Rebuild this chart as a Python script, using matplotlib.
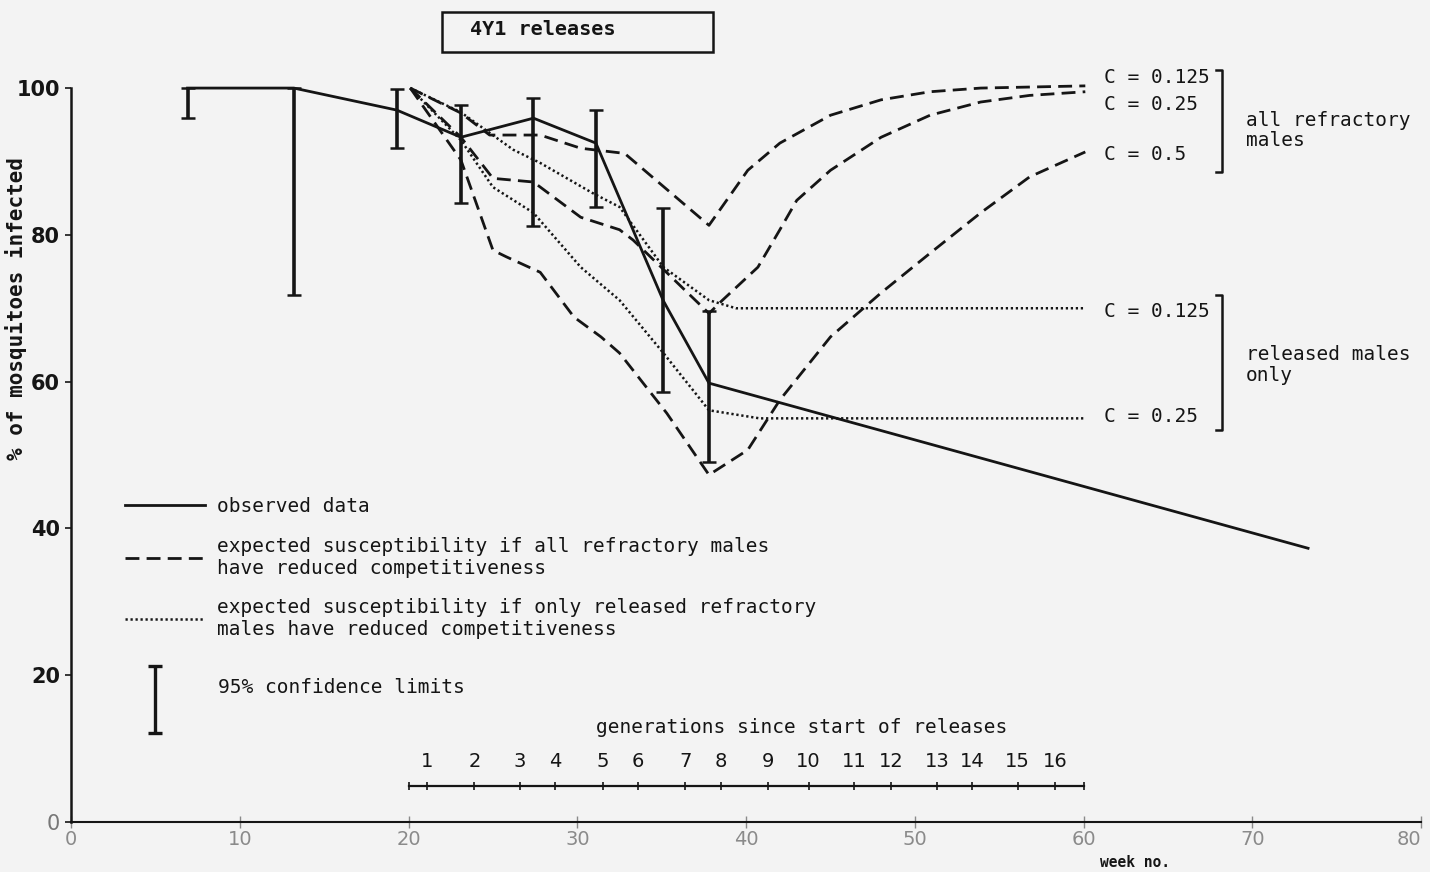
import numpy as np
import matplotlib
matplotlib.use("Agg")
import matplotlib.pyplot as plt
from matplotlib.lines import Line2D
from matplotlib.path import Path
from matplotlib.patches import Rectangle

# observed data with 95% confidence limits
obs_week = [6.9, 13.2, 19.3, 23.1, 27.4, 31.1, 35.1, 37.8, 73.3]
obs_pct = [100, 100, 97.0, 93.3, 95.9, 92.5, 71.0, 59.8, 37.3]
ci_week = [6.9, 13.2, 19.3, 23.1, 27.4, 31.1, 35.1, 37.8]
ci_low = [95.9, 71.8, 91.8, 84.3, 81.2, 83.8, 58.6, 49.0]
ci_high = [100, 100, 99.9, 97.7, 98.6, 97.0, 83.7, 69.6]

# expected: all refractory males have reduced competitiveness
all_c0125_week = [20.1, 23.1, 24.8, 27.8, 30.2, 32.8, 37.8, 40.1, 42.0, 45.0, 48.0, 50.9, 53.9, 60.1]
all_c0125_pct = [100, 96.6, 93.6, 93.6, 91.8, 91.1, 81.3, 88.8, 92.5, 96.3, 98.4, 99.5, 100, 100.3]
all_c025_week = [20.1, 23.1, 25.0, 27.4, 30.2, 32.5, 33.3, 37.8, 38.6, 40.7, 42.0, 43.0, 45.0, 48.0,
                 50.9, 53.9, 56.8, 60.1]
all_c025_pct = [100, 93.3, 87.7, 87.2, 82.4, 80.7, 79.3, 69.3, 71.1, 75.6, 80.7, 84.7, 88.8, 93.3,
                96.3, 98.1, 99.0, 99.5]
all_c05_week = [20.1, 23.1, 25.0, 25.8, 27.8, 29.8, 31.4, 32.5, 35.3, 37.8, 40.1, 42.0, 45.0, 48.0,
                50.9, 53.9, 56.8, 60.1]
all_c05_pct = [100, 90.2, 77.9, 77.0, 74.9, 68.8, 66.1, 63.9, 55.7, 47.3, 50.7, 57.5, 66.1, 72.1,
               77.5, 83.0, 87.9, 91.3]

# expected: only released refractory males have reduced competitiveness
rel_c0125_week = [20.1, 23.1, 26.2, 27.8, 30.9, 32.5, 35.1, 37.8, 39.4, 60.1]
rel_c0125_pct = [100, 96.7, 91.6, 89.8, 85.7, 83.8, 75.6, 71.1, 70.0, 70.0]
rel_c025_week = [20.1, 23.1, 25.0, 27.4, 30.2, 32.5, 35.1, 37.8, 40.8, 60.1]
rel_c025_pct = [100, 92.9, 86.5, 83.0, 75.6, 71.1, 63.9, 56.1, 55.0, 55.0]

# generation scale
gen_labels = [str(g) for g in range(1, 17)]
gen_week = [21.1, 23.9, 26.6, 28.7, 31.5, 33.6, 36.4, 38.5, 41.3, 43.7, 46.4, 48.6, 51.3, 53.4, 56.1, 58.3]
gen_span = [20, 60]
gen_level = 4.9

x_ticks = [0, 10, 20, 30, 40, 50, 60, 70, 80]
y_ticks = [0, 20, 40, 60, 80, 100]

INK = "#151515"
BG = "#f3f3f3"
MONO = ["DejaVu Sans Mono"]
NARROW = ["Liberation Sans Narrow", "DejaVu Sans"]
DASH = (5, 2.6)
DOT = (0.9, 1.1)

fig = plt.figure(figsize=(14.3, 8.72), dpi=100, facecolor=BG)
ax = fig.add_axes([0.0497, 0.0573, 0.9441, 0.8417])
ax.set_facecolor(BG)

# observed line and confidence limits
ax.plot(obs_week, obs_pct, color=INK, lw=2.0, clip_on=False)
ci_mid = [(lo + hi) / 2 for lo, hi in zip(ci_low, ci_high)]
ci_err = [[m - lo for m, lo in zip(ci_mid, ci_low)], [hi - m for m, hi in zip(ci_mid, ci_high)]]
ax.errorbar(ci_week, ci_mid, yerr=ci_err, fmt="none", ecolor=INK, elinewidth=2.6,
            capsize=5, capthick=1.8, clip_on=False)

for w, p in [(all_c0125_week, all_c0125_pct), (all_c025_week, all_c025_pct), (all_c05_week, all_c05_pct)]:
    ax.plot(w, p, color=INK, lw=2.0, dashes=DASH, clip_on=False)
for w, p in [(rel_c0125_week, rel_c0125_pct), (rel_c025_week, rel_c025_pct)]:
    ax.plot(w, p, color=INK, lw=1.8, dashes=DOT, clip_on=False)

# generation scale
ax.plot(gen_span, [gen_level, gen_level], color=INK, lw=1.6)
ax.plot(gen_week + gen_span, [gen_level] * (len(gen_week) + 2), ls="none", marker="|",
        ms=6, mew=1.2, color=INK)
for lab, w in zip(gen_labels, gen_week):
    ax.text(w, gen_level + 3.3, lab, ha="center", va="center", fontsize=14,
            family=NARROW, color=INK)
ax.text(43.3, 12.9, "generations since start of releases", ha="center", va="center",
        fontsize=14, family=MONO, color=INK)

# right-hand labels
ax.text(61.2, all_c0125_pct[-1] + 1.1, "C = 0.125", fontsize=14, family=MONO, color=INK, va="center")
ax.text(61.2, all_c025_pct[-1] - 1.7, "C = 0.25", fontsize=14, family=MONO, color=INK, va="center")
ax.text(61.2, all_c05_pct[-1] - 0.4, "C = 0.5", fontsize=14, family=MONO, color=INK, va="center")
ax.text(61.2, rel_c0125_pct[-1] - 0.5, "C = 0.125", fontsize=14, family=MONO, color=INK, va="center")
ax.text(61.2, rel_c025_pct[-1] + 0.3, "C = 0.25", fontsize=14, family=MONO, color=INK, va="center")


def bracket(x, y0, y1):
    ax.plot([x - 0.35, x, x, x - 0.35], [y0, y0, y1, y1], color=INK, lw=1.8, clip_on=False)


bracket(68.2, 102.5, 88.6)
bracket(68.2, 71.8, 53.4)
ax.text(69.6, 94.2, "all refractory\nmales", fontsize=14, family=MONO, color=INK,
        va="center", linespacing=1.1)
ax.text(69.6, 62.3, "released males\nonly", fontsize=14, family=MONO, color=INK,
        va="center", linespacing=1.1)

# legend: line styles
handles = [
    Line2D([], [], color=INK, lw=2.0),
    Line2D([], [], color=INK, lw=2.0, dashes=DASH),
    Line2D([], [], color=INK, lw=1.8, dashes=DOT),
]
labels = [
    "observed data",
    "expected susceptibility if all refractory males\nhave reduced competitiveness",
    "expected susceptibility if only released refractory\nmales have reduced competitiveness",
]
leg = ax.legend(handles, labels, loc="upper left", bbox_to_anchor=(0.04, 0.4425),
                frameon=False, borderpad=0, borderaxespad=0, handlelength=4.1,
                handletextpad=0.65, labelspacing=1.05, prop={"family": MONO, "size": 14})
for t in leg.get_texts():
    t.set_color(INK)
ax.add_artist(leg)

# legend: confidence limit symbol (I-bar hanging a little below the text)
ibar = Path([(0, -1.4), (0, 0.6), (-0.2, 0.6), (0.2, 0.6), (-0.2, -1.4), (0.2, -1.4)],
            [Path.MOVETO, Path.LINETO, Path.MOVETO, Path.LINETO, Path.MOVETO, Path.LINETO])
leg2 = ax.legend([Line2D([], [], ls="none", marker=ibar, ms=68, mew=2.4, color=INK)],
                 ["95% confidence limits"], loc="upper left", bbox_to_anchor=(0.048, 0.196),
                 frameon=False, borderpad=0, borderaxespad=0, handlelength=2.0,
                 handletextpad=2.2, prop={"family": MONO, "size": 14})
for t in leg2.get_texts():
    t.set_color(INK)

# axes
ax.set_xlim(0, 80)
ax.set_ylim(0, 100)
ax.spines["top"].set_visible(False)
ax.spines["right"].set_visible(False)
ax.spines["left"].set_linewidth(1.8)
ax.spines["bottom"].set_linewidth(1.5)
ax.spines["left"].set_color(INK)
ax.spines["bottom"].set_color(INK)
ax.set_xticks(x_ticks)
ax.set_yticks(y_ticks)
ax.tick_params(axis="x", direction="inout", length=8, width=1.0, colors="#8a8a8a",
               labelsize=14, pad=2)
ax.tick_params(axis="y", direction="out", length=4, width=1.2, colors=INK, labelsize=15, pad=4)
for lab in ax.get_xticklabels():
    lab.set_family(NARROW)
ax.get_xticklabels()[-1].set_horizontalalignment("right")
for lab in ax.get_yticklabels():
    lab.set_family(NARROW)
    lab.set_fontweight("bold")
ax.get_yticklabels()[0].set_color("#777777")
ax.get_yticklabels()[0].set_fontweight("normal")

ax.set_ylabel("% of mosquitoes infected", fontsize=15, family=MONO, color=INK, fontweight="bold")
ax.yaxis.set_label_coords(-0.033, 0.70)
ax.set_xlabel("week no.", fontsize=10.5, family=MONO, color=INK, fontweight="bold")
ax.xaxis.set_label_coords(0.788, -0.045)

# title box
fig.patches.append(Rectangle((0.309, 0.940), 0.1895, 0.046, transform=fig.transFigure,
                             fill=False, edgecolor=INK, lw=1.8))
fig.text(0.3287, 0.9656, "4Y1 releases", fontsize=14.5, family=MONO, color=INK,
         va="center", fontweight="bold")

fig.savefig("out.png", dpi=100, facecolor=BG)
